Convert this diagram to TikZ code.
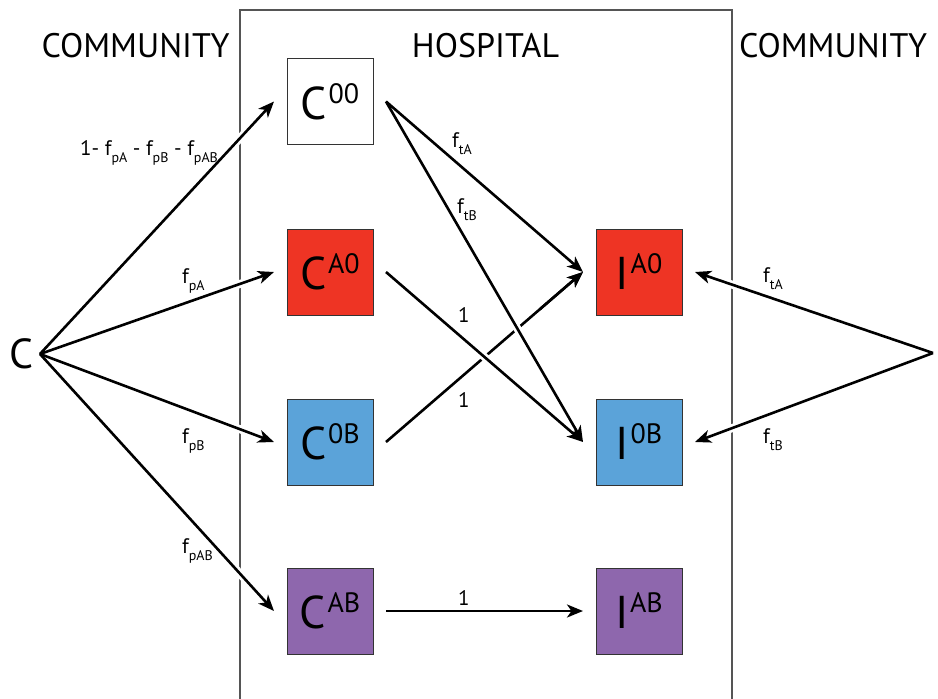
\documentclass[tikz,border=0pt]{standalone}
\usepackage{fontspec}
\setmainfont{PT Sans}
\usetikzlibrary{arrows.meta}
\definecolor{boxred}{RGB}{238,52,36}
\definecolor{boxblue}{RGB}{91,163,217}
\definecolor{boxpurple}{RGB}{142,103,173}
\definecolor{framegray}{RGB}{85,85,85}
\newcommand{\boxlbl}[2]{{\fontsize{46}{46}\selectfont #1}\hspace{1.5pt}\raisebox{16pt}{\fontsize{28}{28}\selectfont #2}}
\newcommand{\fsub}[1]{f\raisebox{-7pt}{\fontsize{14}{14}\selectfont #1}}
\begin{document}
\begin{tikzpicture}[x=1pt,y=-1pt,
  box/.style={draw=black!80, line width=1pt, minimum size=86pt, inner sep=0pt, outer sep=13pt},
  conn/.style={line width=2.6pt, -{Stealth[length=16pt,width=13pt,inset=4.5pt]}},
  halo/.style={draw=white, line width=8pt},
  head/.style={font=\fontsize{34}{34}\selectfont, anchor=base, inner sep=0pt},
  lbl/.style={font=\fontsize{21}{21}\selectfont, anchor=base west, inner sep=0pt},
]
\useasboundingbox (0,0) rectangle (938,699);
\draw[framegray, line width=1.2pt] (240,720) -- (240,10) -- (732,10) -- (732,720);

\node[head] (comL) at (135.5,57) {COMMUNITY};
\node[head] (hosp) at (485.5,57) {HOSPITAL};
\node[head] (comR) at (833,57) {COMMUNITY};

\node[box, fill=white] (C00) at (330,101.5) {\boxlbl{C}{00}};
\node[box, fill=boxred] (CA0) at (330,272) {\boxlbl{C}{A0}};
\node[box, fill=boxblue] (C0B) at (330,442) {\boxlbl{C}{0B}};
\node[box, fill=boxpurple] (CAB) at (330,611) {\boxlbl{C}{AB}};
\node[box, fill=boxred] (IA0) at (639,272) {\boxlbl{I}{A0}};
\node[box, fill=boxblue] (I0B) at (639,442) {\boxlbl{I}{0B}};
\node[box, fill=boxpurple] (IAB) at (639,611) {\boxlbl{I}{AB}};
\node[font=\fontsize{42}{42}\selectfont, inner sep=0pt, outer sep=7pt] (C) at (21,354) {C};
\coordinate (R) at (933,353);

% underneath arrow
\draw[conn] (C0B.east) -- (IA0.west);
% halos
\draw[halo] (C.east) -- (C00.west);
\draw[halo] (C.east) -- (CA0.west);
\draw[halo] (C.east) -- (C0B.west);
\draw[halo] (C.east) -- (CAB.west);
\draw[halo] (R) -- (IA0.east);
\draw[halo] (R) -- (I0B.east);
\draw[halo] (CA0.east) -- (I0B.west);
\draw[halo] (C00.east) -- (I0B.west);
% arrows
\draw[conn] (C.east) -- (C00.west);
\draw[conn] (C.east) -- (CA0.west);
\draw[conn] (C.east) -- (C0B.west);
\draw[conn] (C.east) -- (CAB.west);
\draw[conn] (R) -- (IA0.east);
\draw[conn] (R) -- (I0B.east);
\draw[conn] (CA0.east) -- (I0B.west);
\draw[conn] (C00.east) -- (I0B.west);
\draw[conn] (C00.east) -- (IA0.west);
\draw[conn] (CAB.east) -- (IAB.west);
\path (C0B.east) -- (IA0.west) coordinate[pos=0.78] (m);
\draw[conn] (m) -- (IA0.west);

% labels
\node[lbl] (l1) at (80,155) {1- \fsub{pA} - \fsub{pB} - \fsub{pAB}};
\node[lbl] (lpA) at (182,283) {\fsub{pA}};
\node[lbl] (lpB) at (182,443) {\fsub{pB}};
\node[lbl] (lpAB) at (182,553) {\fsub{pAB}};
\node[lbl] (ltA) at (452,147) {\fsub{tA}};
\node[lbl] (ltB) at (457,213) {\fsub{tB}};
\node[lbl] (one1) at (458,322) {1};
\node[lbl] (one2) at (458,407) {1};
\node[lbl] (one3) at (458,605) {1};
\node[lbl] (rtA) at (763,282) {\fsub{tA}};
\node[lbl] (rtB) at (763,443) {\fsub{tB}};
\end{tikzpicture}
\end{document}
